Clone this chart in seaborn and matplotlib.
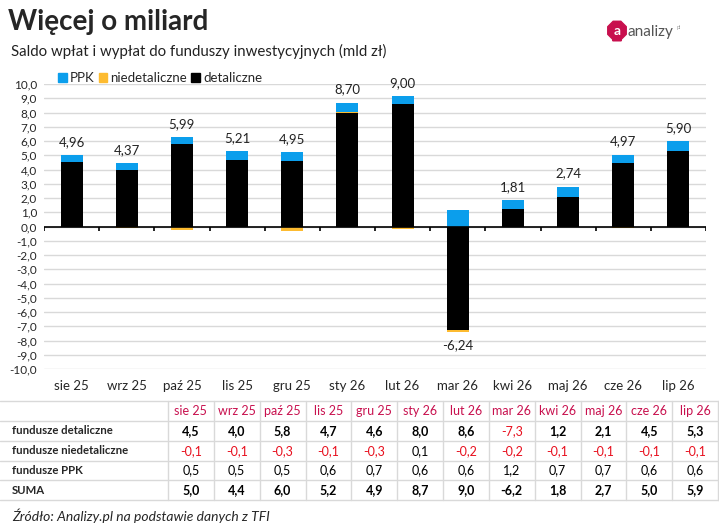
import numpy as np
import seaborn as sns
import matplotlib.pyplot as plt
from matplotlib.patches import Patch, RegularPolygon, FancyBboxPatch

# dane (mld zł)
months = ["sie 25", "wrz 25", "paź 25", "lis 25", "gru 25", "sty 26",
          "lut 26", "mar 26", "kwi 26", "maj 26", "cze 26", "lip 26"]
detaliczne = [4.50, 3.98, 5.78, 4.68, 4.57, 7.99, 8.57, -7.27, 1.20, 2.10, 4.47, 5.33]
niedetaliczne = [-0.06, -0.10, -0.28, -0.06, -0.29, 0.08, -0.16, -0.16, -0.07, -0.06, -0.08, -0.07]
ppk = [0.52, 0.49, 0.49, 0.59, 0.668, 0.63, 0.59, 1.19, 0.68, 0.70, 0.58, 0.64]
row_names = ["fundusze detaliczne", "fundusze niedetaliczne", "fundusze PPK", "SUMA"]
yticks = list(range(-10, 11))

C_DET = "#000000"
C_NIED = "#FDBB30"
C_PPK = "#0B9EEC"
C_HEAD = "#C8104E"
C_NEG = "#E8101E"
C_GRID = "#D9D9D9"

sns.set_theme(style="white")
plt.rcParams['font.family'] = ['Lato', 'DejaVu Sans']

def fmt(v, d=1):
    return f"{v:.{d}f}".replace(".", ",")

fig = plt.figure(figsize=(7.19, 5.30), dpi=100)
ax = fig.add_axes([44 / 719, 1 - 369 / 530, 662 / 719, 285 / 530])

# stacking like Excel: positives up, negatives down
pos = np.zeros(len(months))
neg = np.zeros(len(months))
for vals, col in [(detaliczne, C_DET), (niedetaliczne, C_NIED), (ppk, C_PPK)]:
    v = np.array(vals)
    bottom = np.where(v >= 0, pos, neg)
    sns.barplot(x=months, y=v, bottom=bottom, color=col, saturation=1,
                width=0.4, errorbar=None, ax=ax, zorder=3, linewidth=0)
    pos = np.where(v >= 0, pos + v, pos)
    neg = np.where(v < 0, neg + v, neg)

total = np.array(detaliczne) + np.array(niedetaliczne) + np.array(ppk)
for i, t in enumerate(total):
    if t >= 0:
        ax.annotate(fmt(t, 2), (i, pos[i]), xytext=(0, 5), textcoords="offset points",
                    ha="center", va="bottom", fontsize=9.5, color="#222222")
    else:
        ax.annotate(fmt(t, 2), (i, neg[i]), xytext=(0, -5), textcoords="offset points",
                    ha="center", va="top", fontsize=9.5, color="#222222")

ax.set_ylim(-10, 10)
ax.set_xlim(-0.5, len(months) - 0.5)
ax.set_yticks(yticks)
ax.set_yticklabels([fmt(v) for v in yticks], fontsize=8.5)
ax.set_xticks(range(len(months)))
ax.set_xticklabels(months, fontsize=9.5)
ax.tick_params(axis="x", length=0, pad=8)
ax.tick_params(axis="y", length=0, pad=5)
ax.yaxis.grid(True, color=C_GRID, lw=1)
ax.set_axisbelow(True)
ax.set_xlabel("")
ax.set_ylabel("")
for s in ax.spines.values():
    s.set_visible(False)
ax.axhline(0, color="black", lw=1.2, zorder=4)
ax.vlines(np.arange(-0.5, len(months)), 0, -0.3, color="black", lw=1.2, zorder=4)

handles = [Patch(color=C_PPK, label="PPK"), Patch(color=C_NIED, label="niedetaliczne"),
           Patch(color=C_DET, label="detaliczne")]
ax.legend(handles=handles, loc="upper left", bbox_to_anchor=(58 / 719, 1 - 72 / 530),
          bbox_transform=fig.transFigure, ncol=3, frameon=False, fontsize=9.5,
          handlelength=0.65, handleheight=0.65, handletextpad=0.25, columnspacing=0.3,
          borderpad=0, borderaxespad=0)

# overlay in pixel coordinates
ov = fig.add_axes([0, 0, 1, 1], zorder=-1)
ov.set_xlim(0, 719)
ov.set_ylim(530, 0)
ov.axis("off")

ov.text(8, 22, "Więcej o miliard", fontsize=20, fontweight="bold", va="center", ha="left")
ov.text(11, 51, "Saldo wpłat i wypłat do funduszy inwestycyjnych (mld zł)", fontsize=10.8,
        va="center", ha="left", color="#222222")

# logo
ov.add_patch(FancyBboxPatch((612, 38.5), 10, 3, boxstyle="round,pad=0,rounding_size=1.2",
                            color="#C8104E", lw=0))
ov.add_patch(RegularPolygon((617, 30.5), 8, radius=10, orientation=np.pi / 8, color="#C8104E"))
ov.text(617, 31, "a", color="white", fontsize=10, fontweight="bold", ha="center", va="center")
ov.text(628, 32, "analizy", color="#555555", fontsize=11, ha="left", va="center")
ov.text(677, 27, "pl", color="#999999", fontsize=4, ha="left", va="center")

# table
edges = np.linspace(168, 718, len(months) + 1)
centers = (edges[:-1] + edges[1:]) / 2
hlines = [401, 421, 441, 461, 480, 500]
for y in hlines:
    ov.plot([0, 719], [y, y], color=C_GRID, lw=1)
for x in edges:
    ov.plot([x, x], [401, 500], color=C_GRID, lw=1)

row_y = [431, 451, 470.5, 490]
for m, x in zip(months, centers):
    ov.text(x, 411, m, color=C_HEAD, fontsize=9, ha="center", va="center")

rows = [detaliczne, niedetaliczne, ppk, list(total)]
bold_rows = [True, False, False, True]
for name, vals, yy, b in zip(row_names, rows, row_y, bold_rows):
    ov.text(12, yy, name, fontsize=8.2, fontweight="bold", ha="left", va="center")
    for v, x in zip(vals, centers):
        red = v < 0 and name != "SUMA"
        w = "bold" if (b and not red) else "normal"
        ov.text(x, yy, fmt(v), fontsize=9, fontweight=w, ha="center", va="center",
                color=C_NEG if red else "black")

ov.text(12, 516, "Źródło: Analizy.pl na podstawie danych z TFI", fontsize=10,
        style="italic", ha="left", va="center")

fig.savefig("out.png", dpi=100)
